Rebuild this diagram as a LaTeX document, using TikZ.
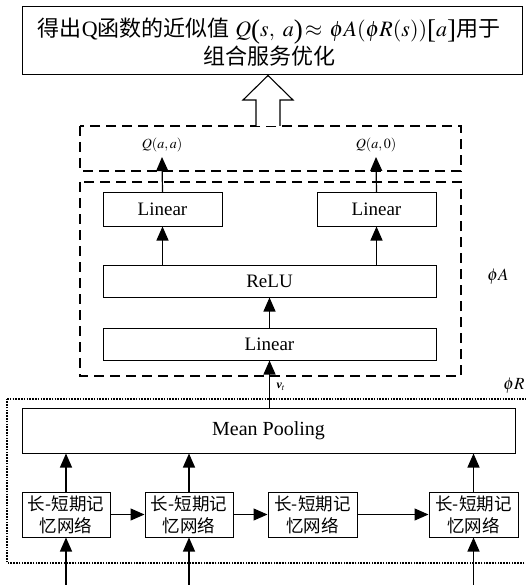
\documentclass[tikz,border=0pt]{standalone}
\usepackage{mathptmx}
\usepackage{fontspec}
\setmainfont{Liberation Serif}
\newfontfamily\cjk{Noto Sans CJK SC}
\usetikzlibrary{arrows.meta,calc}
\newcommand{\bigpar}[1]{{\fontsize{27}{28}\selectfont\raisebox{-1.5pt}{#1}}}
\begin{document}
\begin{tikzpicture}[x=1pt,y=-1pt,
  box/.style={draw=black,line width=1pt,fill=white,inner sep=0pt,align=center},
  arr/.style={line width=1.2pt,-{Triangle[length=14pt,width=12pt]}},
  dashbox/.style={draw=black,line width=1.4pt,dash pattern=on 10pt off 6pt},
  dotbox/.style={draw=black,line width=1.6pt,dash pattern=on 1.6pt off 1.2pt},
  lbl/.style={inner sep=0pt}]
\useasboundingbox (0,0) rectangle (526,585);
% top result box
\node[box,minimum width=500pt,minimum height=68pt] (top) at (272,41) {};
\node[lbl,align=center,font=\fontsize{22}{28}\selectfont,anchor=north] (toptext) at (269,18)
  {{\cjk 得出}Q{\cjk 函数的近似值} $Q$\bigpar{(}$s,\ a$\bigpar{)}$\,\approx\,\phi A(\phi R(s))$\bigpar{[}$a$\bigpar{]}{\cjk 用于}\\{\cjk 组合服务优化}};
% dashed boxes
\draw[dashbox] (80,126) rectangle (461,171);
\draw[dashbox] (80,182) rectangle (461,376);
\draw[dotbox] (7,399) -- (530,399);
\draw[dotbox] (530,563) -- (7,563) -- (7,399);
% hollow arrow
\coordinate (hb) at (268,126);
\draw[line width=1.1pt,fill=white] ($(hb)+(-12,0)$) -- ($(hb)+(-12,-26)$) -- ($(hb)+(-25,-26)$) -- (top.south -| hb) -- ($(hb)+(25,-26)$) -- ($(hb)+(12,-26)$) -- ($(hb)+(12,0)$);
% output labels
\node[lbl,font=\fontsize{14}{16}\selectfont,anchor=south] (qaa) at (162,152) {$Q(a,a)$};
\node[lbl,font=\fontsize{14}{16}\selectfont,anchor=south] (qa0) at (376,152) {$Q(a,0)$};
% phi A network
\node[box,minimum width=119pt,minimum height=33pt,font=\fontsize{19}{22}\selectfont] (lin1) at (162.5,209.5) {Linear};
\node[box,minimum width=119pt,minimum height=33pt,font=\fontsize{19}{22}\selectfont] (lin2) at (376.5,209.5) {Linear};
\node[box,minimum width=333pt,minimum height=32pt,font=\fontsize{19}{22}\selectfont] (relu) at (269.5,281) {ReLU};
\node[box,minimum width=333pt,minimum height=32pt,font=\fontsize{19}{22}\selectfont] (lin0) at (269.5,344) {Linear};
\node[lbl,font=\fontsize{17}{20}\selectfont] (phia) at (498,277) {$\phi A$};
% phi R network
\node[box,minimum width=493pt,minimum height=45pt,font=\fontsize{20}{24}\selectfont] (mp) at (268.5,430.5) {Mean Pooling};
\node[lbl,font=\fontsize{17}{20}\selectfont] (phir) at (514,386) {$\phi R$};
\node[lbl,font=\fontsize{12}{14}\selectfont] (vt) at (281,387) {{\bfseries\itshape v}$_t$};
\foreach \n/\cx/\w in {l1/66/88,l2/189/88,l3/312.5/89,l4/473.5/89}{
  \node[box,minimum width=\w pt,minimum height=45pt,font=\cjk\fontsize{17.5}{22}\selectfont] (\n) at (\cx,514.5) {长-短期记\\忆网络};
}
\coordinate (in1) at (66,590);
\coordinate (in2) at (189,590);
\coordinate (in4) at (473.5,590);
% connectors
\draw[arr] (in1) -- (l1.south);
\draw[arr] (in2) -- (l2.south);
\draw[arr] (in4) -- (l4.south);
\draw[arr] (l1.north) -- (l1.north |- mp.south);
\draw[arr] (l2.north) -- (l2.north |- mp.south);
\draw[arr] (l4.north) -- (l4.north |- mp.south);
\draw[arr] (l1.east) -- (l2.west);
\draw[arr] (l2.east) -- (l3.west);
\draw[arr] (l3.east) -- (l4.west);
\draw[arr] (mp.north -| lin0.south) -- (lin0.south);
\draw[arr] (lin0.north) -- (relu.south);
\draw[arr] (relu.north -| lin1.south) -- (lin1.south);
\draw[arr] (relu.north -| lin2.south) -- (lin2.south);
\draw[arr] (lin1.north) -- ($(qaa.south)+(0,5)$);
\draw[arr] (lin2.north) -- ($(qa0.south)+(0,5)$);
\end{tikzpicture}
\end{document}
